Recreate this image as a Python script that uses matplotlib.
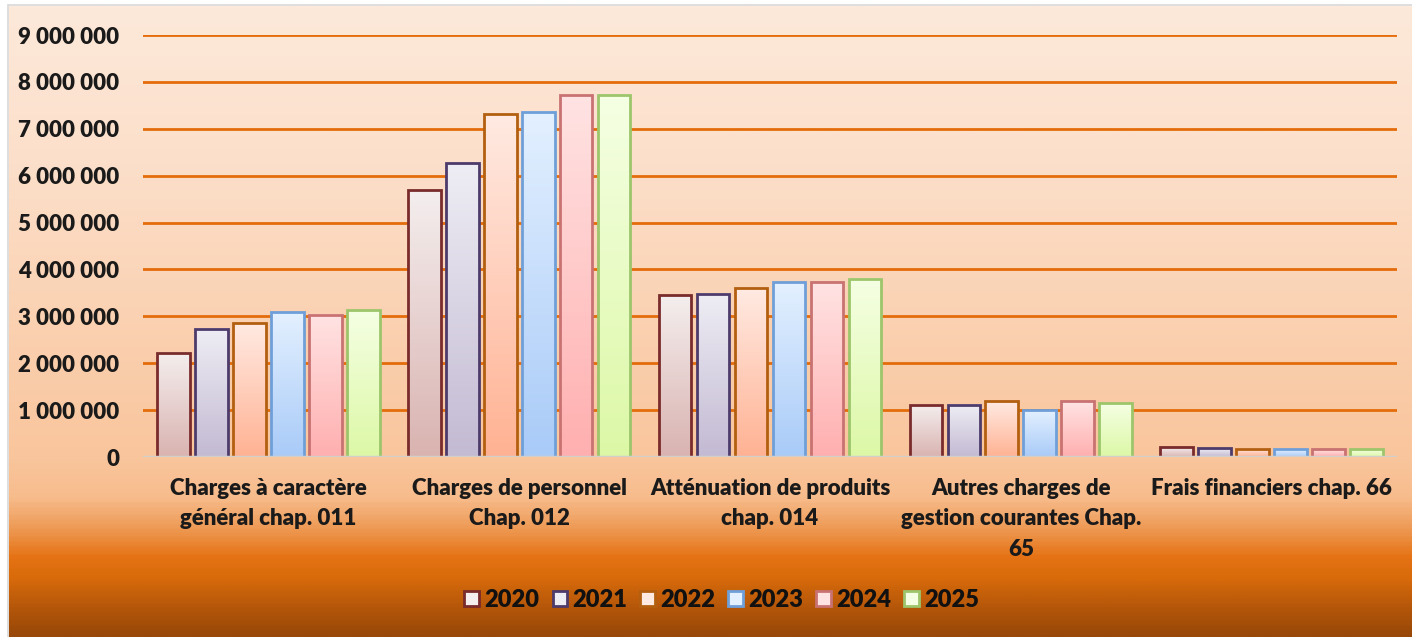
import numpy as np
import matplotlib
matplotlib.use("Agg")
import matplotlib.pyplot as plt
from matplotlib.colors import LinearSegmentedColormap
from matplotlib.patches import Patch, Rectangle

# data
categories = ["Charges à caractère\ngénéral chap. 011",
              "Charges de personnel\nChap. 012",
              "Atténuation de produits\nchap. 014",
              "Autres charges de\ngestion courantes Chap.\n65",
              "Frais financiers chap. 66"]
years = ["2020", "2021", "2022", "2023", "2024", "2025"]
v2020 = [2220000, 5690000, 3450000, 1110000, 210000]
v2021 = [2740000, 6270000, 3480000, 1110000, 190000]
v2022 = [2850000, 7310000, 3600000, 1190000, 180000]
v2023 = [3090000, 7360000, 3730000, 1000000, 170000]
v2024 = [3030000, 7720000, 3730000, 1190000, 170000]
v2025 = [3130000, 7720000, 3800000, 1150000, 160000]
yticks = [0, 1000000, 2000000, 3000000, 4000000, 5000000, 6000000, 7000000, 8000000, 9000000]

series = [v2020, v2021, v2022, v2023, v2024, v2025]
# (top colour, bottom colour, edge colour)
styles = [("#F4EEEE", "#D9B3B0", "#7A2B2B"),
          ("#EEEDF4", "#C3BAD3", "#4D3B6B"),
          ("#FFEAE2", "#FFB293", "#B35F10"),
          ("#E3F0FF", "#A9CBF8", "#6F9FD8"),
          ("#FFE3E3", "#FFAFAF", "#C97272"),
          ("#F5FFE3", "#DCF8A6", "#9DC56B")]

plt.rcParams['font.family'] = ['Lato', 'DejaVu Sans']
plt.rcParams['font.weight'] = 'heavy'

W, H = 1412, 637
fig = plt.figure(figsize=(W/100, H/100), dpi=100, facecolor="white")

# background gradient
bg = fig.add_axes([9/W, 0, 1-9/W, 631/H], zorder=-5)
bg_cmap = LinearSegmentedColormap.from_list("bg", [
    (0.0, "#FDE9DA"), (0.25, "#FCDFCA"), (0.72, "#F9C59C"), (0.78, "#F7BC8C"),
    (0.83, "#EE9A55"), (0.875, "#E57315"), (0.91, "#D86A0A"),
    (0.955, "#B5570A"), (1.0, "#984808")])
bg.imshow(np.linspace(0, 1, 400).reshape(-1, 1), aspect="auto", cmap=bg_cmap,
          extent=[0, 1, 0, 1], origin="upper")
bg.axis("off")
fig.patches.append(Rectangle((8/W, 0), 1, 632/H, transform=fig.transFigure,
                             fill=False, edgecolor="#D8D8D8", lw=1.2, zorder=-6))

ax = fig.add_axes([143/W, 180/H, (1397-143)/W, (457-35)/H])
ax.set_facecolor("none")

x = np.arange(len(categories))
slot = 0.1515
bw = 0.13
for i, (vals, (ctop, cbot, cedge)) in enumerate(zip(series, styles)):
    pos = x + (i - 2.5) * slot
    cm = LinearSegmentedColormap.from_list("b%d" % i, [cbot, ctop])
    grad = np.linspace(1, 0, 100).reshape(-1, 1)
    for p, v in zip(pos, vals):
        ax.imshow(grad, extent=[p - bw/2, p + bw/2, 0, v], aspect="auto",
                  cmap=cm, zorder=2, origin="upper", vmin=0, vmax=1)
    ax.bar(pos, vals, width=bw, facecolor="none", edgecolor=cedge,
           linewidth=2.0, zorder=3)

ax.set_xlim(-0.5, 4.5)
ax.set_ylim(0, 9000000)
for t in yticks[1:]:
    ax.axhline(t, color="#E46C0A", lw=2.0, zorder=1)
ax.axhline(0, color="#D3CFCB", lw=2.5, zorder=4)

ax.set_yticks(yticks)
ax.set_yticklabels(["{:,}".format(t).replace(",", " ") for t in yticks])
ax.set_xticks(x)
ax.set_xticklabels(categories, linespacing=1.55)
ax.tick_params(axis="y", length=0, pad=17, labelsize=16, labelcolor="#1A1A1A")
ax.tick_params(axis="x", length=0, pad=15, labelsize=16, labelcolor="#1A1A1A")
for s in ax.spines.values():
    s.set_visible(False)

handles = [Patch(facecolor=ctop, edgecolor=cedge, lw=2.0) for ctop, cbot, cedge in styles]
fig.legend(handles, years, loc="center", bbox_to_anchor=(722/W, 1-600/H),
           ncol=6, frameon=False, fontsize=17, handlelength=0.6, handleheight=0.6,
           handletextpad=0.25, columnspacing=0.55, labelcolor="#111111")

fig.savefig("out.png", dpi=100)
